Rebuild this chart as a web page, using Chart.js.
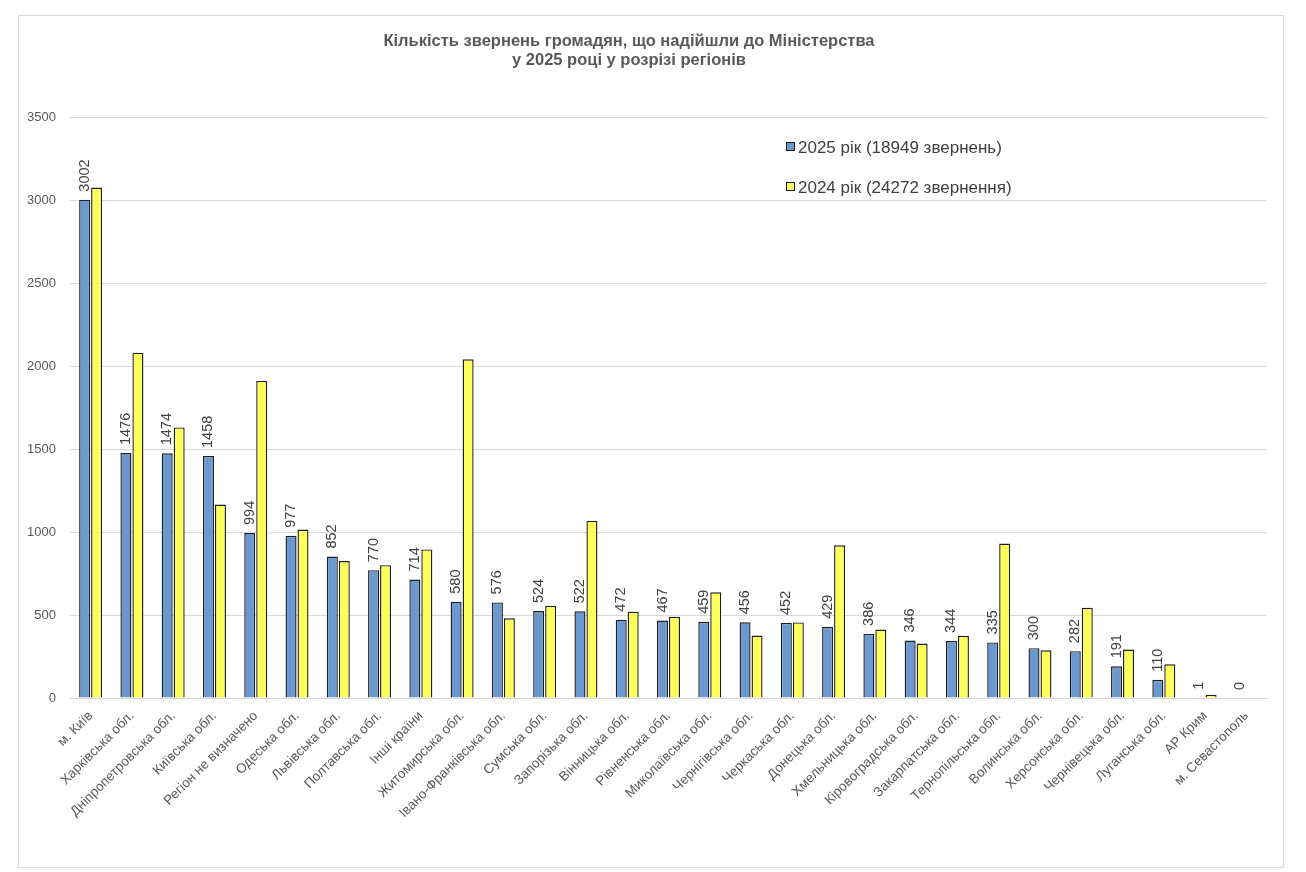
<!DOCTYPE html>
<html>
<head>
<meta charset="utf-8">
<script src="https://cdn.jsdelivr.net/npm/chart.js@4.4.1/dist/chart.umd.min.js"></script>
<style>
  html, body { margin: 0; padding: 0; background: #fff; }
  #wrap { position: relative; width: 1306px; height: 872px; }
</style>
</head>
<body>
<div id="wrap"><canvas id="regionsChart" width="1306" height="872"></canvas></div>
<script>
const regions = [
    'м. Київ', 'Харківська обл.', 'Дніпропетровська обл.', 'Київська обл.', 'Регіон не визначено',
    'Одеська обл.', 'Львівська обл.', 'Полтавська обл.', 'Інші країни', 'Житомирська обл.',
    'Івано-Франківська обл.', 'Сумська обл.', 'Запорізька обл.', 'Вінницька обл.', 'Рівненська обл.',
    'Миколаївська обл.', 'Чернігівська обл.', 'Черкаська обл.', 'Донецька обл.', 'Хмельницька обл.',
    'Кіровоградська обл.', 'Закарпатська обл.', 'Тернопільська обл.', 'Волинська обл.', 'Херсонська обл.',
    'Чернівецька обл.', 'Луганська обл.', 'АР Крим', 'м. Севастополь'
];
const values2025 = [3002, 1476, 1474, 1458, 994, 977, 852, 770, 714, 580, 576, 524, 522, 472, 467,
    459, 456, 452, 429, 386, 346, 344, 335, 300, 282, 191, 110, 1, 0];
const values2024 = [3075, 2080, 1630, 1165, 1910, 1015, 825, 800, 895, 2040, 480, 555, 1068, 520, 490,
    637, 376, 455, 920, 412, 328, 375, 930, 287, 543, 292, 203, 20, 3];
const yTicks = [0, 500, 1000, 1500, 2000, 2500, 3000, 3500];
const seriesNames = ['2025 рік (18949 звернень)', '2024 рік (24272 звернення)'];
const titleLines = ['Кількість звернень громадян, що надійшли до Міністерства', 'у 2025 році у розрізі регіонів'];

const blue = '#6b99cf';
const yellow = '#ffff5c';
const textGrey = '#595959';
const fontFamily = '"Liberation Sans", Arial, sans-serif';

// рамка, заголовок, легенда і підписи значень
const decorPlugin = {
    id: 'decor',
    beforeDraw(chart) {
        const ctx = chart.ctx;
        ctx.save();
        ctx.fillStyle = '#fff';
        ctx.fillRect(0, 0, chart.width, chart.height);
        ctx.strokeStyle = '#d9d9d9';
        ctx.lineWidth = 1;
        ctx.strokeRect(18.5, 15.5, 1265, 852);
        ctx.restore();
    },
    afterDraw(chart) {
        const ctx = chart.ctx;
        ctx.save();
        ctx.fillStyle = textGrey;
        ctx.font = 'bold 16.5px ' + fontFamily;
        ctx.textAlign = 'center';
        ctx.textBaseline = 'middle';
        ctx.fillText(titleLines[0], 629, 41);
        ctx.fillText(titleLines[1], 629, 60);

        // легенда
        const colors = [blue, yellow];
        const ys = [147, 187];
        ctx.font = '17px ' + fontFamily;
        ctx.textAlign = 'left';
        seriesNames.forEach((name, i) => {
            ctx.fillStyle = colors[i];
            ctx.fillRect(787, ys[i] - 4, 7, 7);
            ctx.strokeStyle = '#1a1a1a';
            ctx.lineWidth = 1;
            ctx.strokeRect(786.5, ys[i] - 4.5, 8, 8);
            ctx.fillStyle = '#404040';
            ctx.fillText(name, 798, ys[i] + 1);
        });

        // підписи значень 2025
        const meta = chart.getDatasetMeta(0);
        ctx.font = '14.5px ' + fontFamily;
        ctx.fillStyle = '#404040';
        ctx.textAlign = 'left';
        ctx.textBaseline = 'middle';
        meta.data.forEach((bar, i) => {
            ctx.save();
            ctx.translate(bar.x, bar.y - 8);
            ctx.rotate(-Math.PI / 2);
            ctx.fillText(String(values2025[i]), 0, 0);
            ctx.restore();
        });
        ctx.restore();
    }
};

new Chart(document.getElementById('regionsChart'), {
    type: 'bar',
    data: {
        labels: regions,
        datasets: [
            {
                label: seriesNames[0],
                data: values2025,
                backgroundColor: blue,
                borderColor: '#1f1f1f',
                borderWidth: 1.4,
                categoryPercentage: 0.58,
                barPercentage: 0.92
            },
            {
                label: seriesNames[1],
                data: values2024,
                backgroundColor: yellow,
                borderColor: '#1f1f1f',
                borderWidth: 1.4,
                categoryPercentage: 0.58,
                barPercentage: 0.92
            }
        ]
    },
    options: {
        responsive: false,
        animation: false,
        layout: { padding: { left: 20, right: 39, top: 117, bottom: 8 } },
        plugins: {
            legend: { display: false },
            title: { display: false },
            tooltip: { enabled: false }
        },
        scales: {
            x: {
                grid: { display: false, drawTicks: false },
                border: { color: '#d9d9d9' },
                ticks: {
                    color: textGrey,
                    font: { size: 13.5, family: fontFamily },
                    minRotation: 45,
                    maxRotation: 45,
                    autoSkip: false,
                    padding: 10
                },
                afterFit(scale) { scale.height = 872 - 8 - 698; }
            },
            y: {
                min: 0,
                max: 3500,
                afterBuildTicks(scale) { scale.ticks = yTicks.map(v => ({ value: v })); },
                grid: { color: '#d9d9d9', drawTicks: false },
                border: { display: false },
                ticks: {
                    color: textGrey,
                    font: { size: 13, family: fontFamily },
                    padding: 14,
                    callback: (v) => String(v)
                },
                afterFit(scale) { scale.width = 50; }
            }
        }
    },
    plugins: [decorPlugin]
});
</script>
</body>
</html>
